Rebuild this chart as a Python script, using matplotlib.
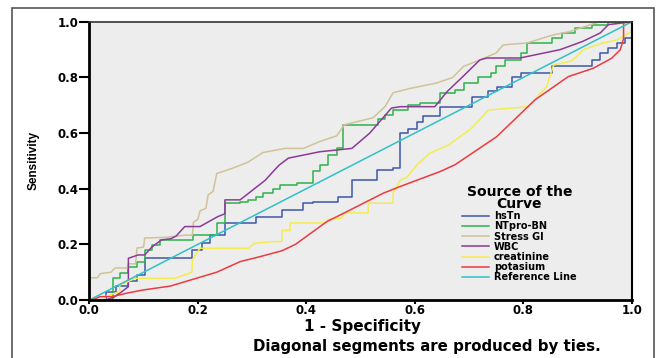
import matplotlib
matplotlib.use("Agg")
import matplotlib.pyplot as plt
from matplotlib.patches import Rectangle

# puntos de las curvas ROC (1 - especificidad, sensibilidad)
hstn_x = [0, 0.03, 0.05, 0.072, 0.087, 0.102, 0.19, 0.207, 0.222, 0.25, 0.308, 0.355, 0.394, 0.413,
          0.459, 0.484, 0.53, 0.56, 0.573, 0.588, 0.604, 0.615, 0.647, 0.705, 0.735, 0.752, 0.78,
          0.795, 0.853, 0.927, 0.942, 0.957, 0.973, 0.988, 1.0]
hstn_y = [0, 0.03, 0.05, 0.07, 0.09, 0.15, 0.18, 0.204, 0.234, 0.276, 0.30, 0.324, 0.348, 0.354,
          0.372, 0.43, 0.468, 0.475, 0.60, 0.615, 0.64, 0.66, 0.695, 0.73, 0.75, 0.767, 0.80,
          0.815, 0.84, 0.863, 0.888, 0.905, 0.924, 0.942, 1.0]

ntpro_x = [0, 0.044, 0.056, 0.072, 0.087, 0.102, 0.115, 0.130, 0.191, 0.235, 0.25, 0.278, 0.293,
           0.308, 0.321, 0.339, 0.351, 0.382, 0.413, 0.425, 0.44, 0.456, 0.468, 0.533, 0.545, 0.56,
           0.588, 0.61, 0.646, 0.674, 0.69, 0.717, 0.74, 0.75, 0.767, 0.795, 0.807, 0.853, 0.872,
           0.896, 0.927, 0.957, 1.0]
ntpro_y = [0, 0.078, 0.096, 0.12, 0.138, 0.18, 0.198, 0.216, 0.234, 0.276, 0.348, 0.354, 0.36,
           0.372, 0.384, 0.40, 0.414, 0.42, 0.462, 0.486, 0.52, 0.545, 0.63, 0.65, 0.665, 0.683,
           0.70, 0.71, 0.745, 0.755, 0.78, 0.80, 0.815, 0.84, 0.863, 0.888, 0.924, 0.942, 0.96,
           0.978, 0.99, 1.0, 1.0]

stress_x = [0, 0, 0.015, 0.02, 0.04, 0.047, 0.07, 0.071, 0.085, 0.088, 0.1, 0.102, 0.14, 0.176,
            0.19, 0.192, 0.2, 0.204, 0.215, 0.219, 0.228, 0.235, 0.263, 0.292, 0.32, 0.36, 0.395,
            0.425, 0.456, 0.47, 0.523, 0.545, 0.56, 0.59, 0.64, 0.67, 0.69, 0.72, 0.75, 0.763,
            0.807, 0.855, 0.886, 0.94, 1.0]
stress_y = [0, 0.08, 0.08, 0.095, 0.10, 0.115, 0.115, 0.13, 0.13, 0.187, 0.19, 0.223, 0.225, 0.233,
            0.233, 0.28, 0.29, 0.32, 0.33, 0.378, 0.39, 0.455, 0.473, 0.495, 0.53, 0.545, 0.545,
            0.57, 0.59, 0.63, 0.655, 0.695, 0.745, 0.76, 0.78, 0.80, 0.84, 0.863, 0.888, 0.917,
            0.924, 0.953, 0.965, 1.0, 1.0]

wbc_x = [0, 0.03, 0.045, 0.06, 0.072, 0.072, 0.09, 0.102, 0.115, 0.133, 0.15, 0.16, 0.176, 0.204,
         0.237, 0.25, 0.25, 0.278, 0.324, 0.338, 0.35, 0.367, 0.425, 0.484, 0.517, 0.557, 0.573,
         0.637, 0.66, 0.687, 0.72, 0.733, 0.794, 0.868, 0.91, 0.942, 0.957, 1.0]
wbc_y = [0, 0, 0.01, 0.03, 0.048, 0.15, 0.162, 0.162, 0.19, 0.216, 0.22, 0.23, 0.264, 0.264,
         0.30, 0.31, 0.36, 0.36, 0.43, 0.46, 0.485, 0.51, 0.533, 0.545, 0.60, 0.69, 0.695,
         0.695, 0.75, 0.80, 0.863, 0.87, 0.87, 0.90, 0.93, 0.96, 0.99, 1.0]

creat_x = [0, 0.029, 0.029, 0.04, 0.056, 0.056, 0.07, 0.084, 0.158, 0.175, 0.189, 0.19, 0.204,
           0.293, 0.305, 0.339, 0.355, 0.355, 0.37, 0.37, 0.4375, 0.44, 0.465, 0.471, 0.514, 0.514,
           0.56, 0.56, 0.573, 0.585, 0.604, 0.628, 0.662, 0.705, 0.736, 0.81, 0.843, 0.856, 0.89,
           0.911, 0.945, 0.973, 1.0, 1.0]
creat_y = [0, 0, 0.012, 0.02, 0.03, 0.054, 0.065, 0.078, 0.078, 0.09, 0.10, 0.144, 0.186,
           0.186, 0.204, 0.21, 0.21, 0.25, 0.25, 0.277, 0.277, 0.29, 0.294, 0.313, 0.313, 0.348,
           0.348, 0.384, 0.43, 0.44, 0.486, 0.528, 0.557, 0.618, 0.683, 0.695, 0.767, 0.845, 0.86,
           0.90, 0.923, 0.935, 0.965, 1.0]

pot_x = [0, 0.012, 0.019, 0.042, 0.07, 0.099, 0.149, 0.235, 0.278, 0.315, 0.355, 0.38, 0.438,
         0.475, 0.542, 0.573, 0.647, 0.674, 0.751, 0.822, 0.883, 0.929, 0.963, 0.979, 0.985,
         0.985, 1.0]
pot_y = [0, 0.005, 0.012, 0.012, 0.025, 0.036, 0.05, 0.10, 0.138, 0.156, 0.177, 0.20, 0.282,
         0.318, 0.384, 0.408, 0.462, 0.486, 0.587, 0.72, 0.803, 0.833, 0.869, 0.90, 0.94,
         1.0, 1.0]

ref_x = [0, 1]
ref_y = [0, 1]

etiquetas = ['hsTn', 'NTpro-BN', 'Stress GI', 'WBC', 'creatinine', 'potasium', 'Reference Line']
colores = ['#3d56a8', '#2eb34c', '#cfc397', '#8b3b96', '#f3ec4f', '#ee3a3f', '#2fc1c7']

series = [(hstn_x, hstn_y, 'steps-post'), (ntpro_x, ntpro_y, 'steps-post'),
          (stress_x, stress_y, 'default'), (wbc_x, wbc_y, 'default'),
          (creat_x, creat_y, 'default'), (pot_x, pot_y, 'default'),
          (ref_x, ref_y, 'default')]

fig = plt.figure(figsize=(6.57, 3.58), dpi=100)
fig.patch.set_facecolor('white')

# marco exterior gris
fig.patches.append(Rectangle((12 / 657, -0.1), 642 / 657, 1.1 - 8 / 358,
                             transform=fig.transFigure, fill=False,
                             edgecolor='#555555', linewidth=1.2))

ax = fig.add_axes([0.136, 0.162, 0.8255, 0.777])
ax.set_facecolor('#ededed')

for (xs, ys, estilo), etiqueta, color in zip(series, etiquetas, colores):
    ax.plot(xs, ys, color=color, lw=1.1, drawstyle=estilo, label=etiqueta)

ax.set_xlim(0, 1)
ax.set_ylim(0, 1)
ticks = [0, 0.2, 0.4, 0.6, 0.8, 1.0]
ax.set_xticks(ticks)
ax.set_yticks(ticks)
ax.set_xticklabels(['0.0', '0.2', '0.4', '0.6', '0.8', '1.0'], fontweight='bold', fontsize=8.5)
ax.set_yticklabels(['0.0', '0.2', '0.4', '0.6', '0.8', '1.0'], fontweight='bold', fontsize=8.5)
ax.tick_params(axis='x', direction='out', length=3, width=1.5, pad=0)
ax.tick_params(axis='y', direction='out', length=7, width=1.5, pad=1)

ax.spines['left'].set_linewidth(2)
ax.spines['bottom'].set_linewidth(2)
ax.spines['top'].set_linewidth(1.2)
ax.spines['top'].set_color('#333333')
ax.spines['right'].set_linewidth(1.5)

fig.text(362 / 657, 1 - 327 / 358, '1 - Specificity', ha='center', va='center',
         fontsize=11, fontweight='bold')
fig.text(34 / 657, 1 - 160 / 358, 'Sensitivity', ha='center', va='center', rotation=90,
         fontsize=8.5, fontweight='bold', family='Liberation Sans')
fig.text(427 / 657, 1 - 347 / 358, 'Diagonal segments are produced by ties.', ha='center',
         va='center', fontsize=10.8, fontweight='bold')

leg = ax.legend(loc='upper left', bbox_to_anchor=(0.678, 0.43), frameon=False,
                title='Source of the\nCurve', prop={'weight': 'bold', 'size': 7},
                title_fontproperties={'weight': 'bold', 'size': 10},
                handlelength=2.8, handletextpad=0.5, labelspacing=0.02, borderpad=0)
leg.get_title().set_linespacing(0.8)
leg.get_title().set_multialignment('center')
leg._legend_box.align = 'center'

fig.savefig('out.png', dpi=100)
